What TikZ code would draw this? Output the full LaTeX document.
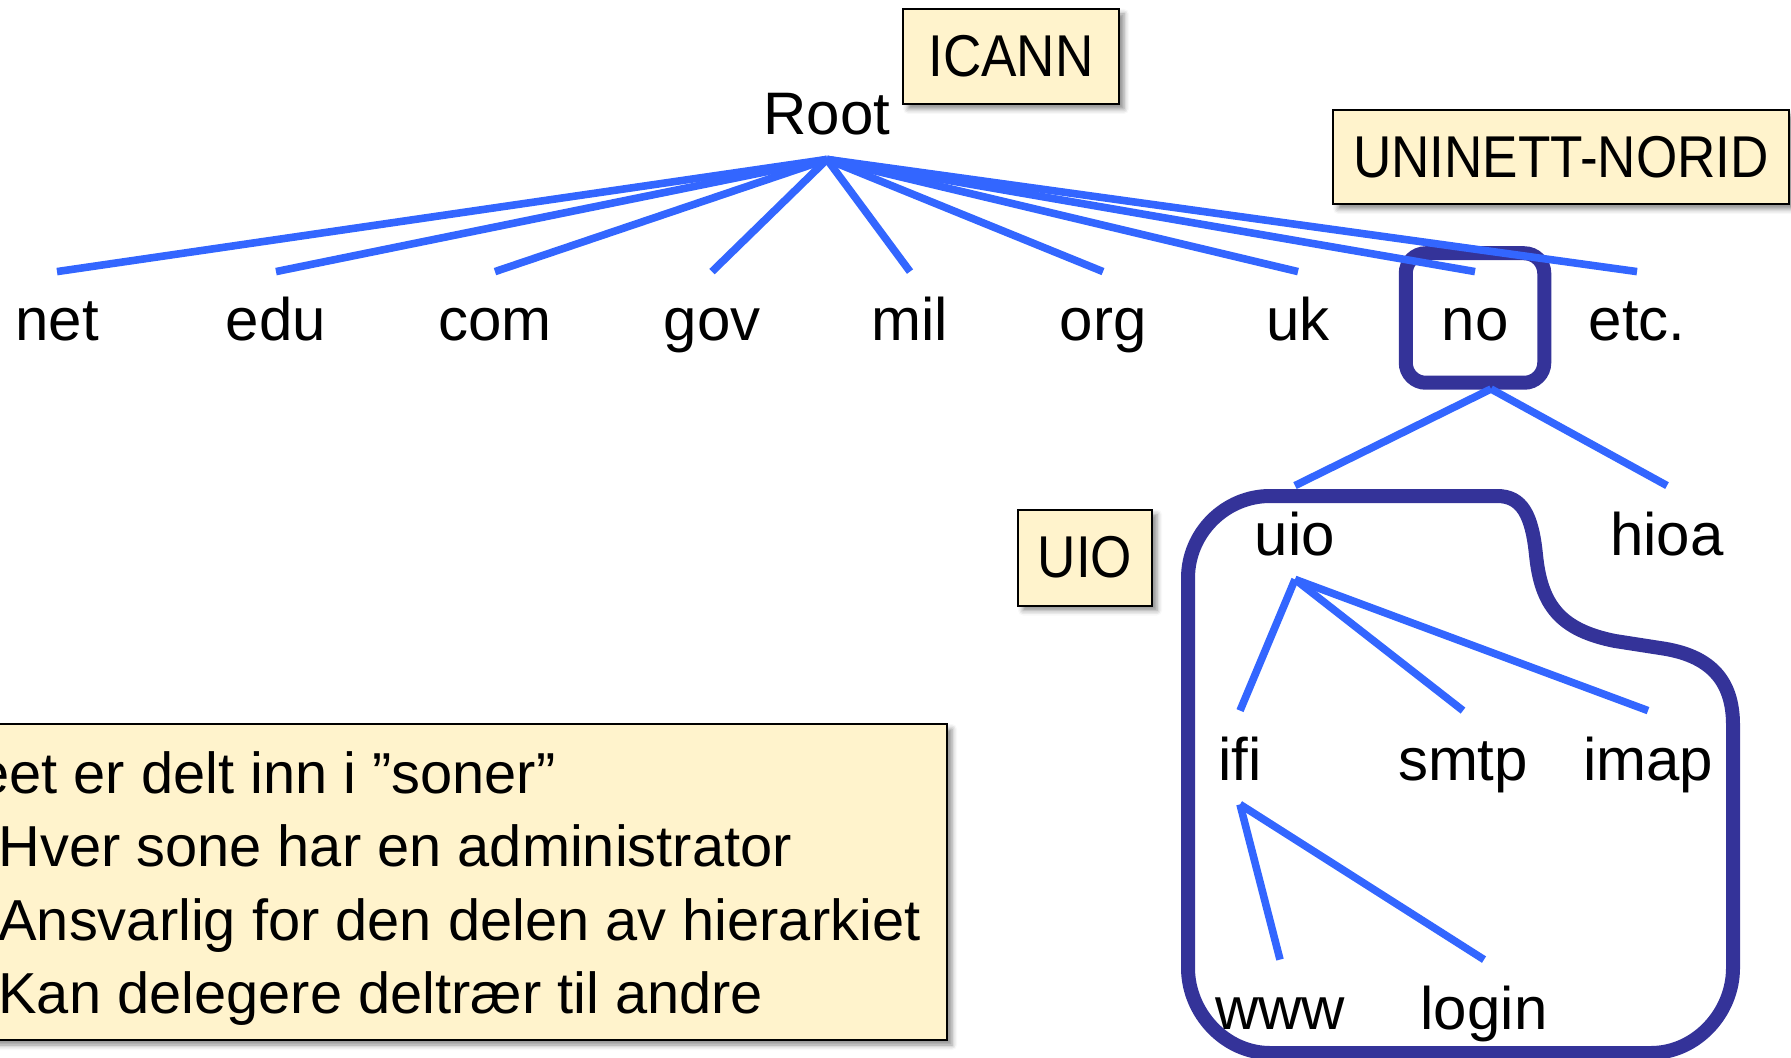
\documentclass[tikz,border=0pt]{standalone}
\usepackage{fontspec}
\setmainfont{Liberation Sans}
\newfontfamily\tagfont[FakeStretch=0.9]{Liberation Sans}
\usetikzlibrary{shadows.blur}
\definecolor{linkblue}{HTML}{3366FF}
\definecolor{zoneblue}{HTML}{343399}
\definecolor{notefill}{HTML}{FFF3CC}

\begin{document}
\begin{tikzpicture}[x=0.5pt,y=-0.5pt,
  lbl/.style={inner sep=0pt, anchor=base, text height=34.5pt, text depth=12pt,
              font=\fontsize{30pt}{30pt}\selectfont},
  link/.style={draw=linkblue, line width=3.8pt},
  zone/.style={draw=zoneblue, line width=7pt},
  tagbox/.style={draw=black, line width=1pt, fill=notefill, inner sep=0pt,
                 font=\tagfont\fontsize{29.5pt}{29.5pt}\selectfont,
                 blur shadow={shadow xshift=2.5pt, shadow yshift=-2.5pt,
                              shadow blur radius=2.5pt, shadow opacity=45}},
  notetext/.style={inner sep=0pt, font=\fontsize{28.9pt}{28.9pt}\selectfont},
]
\useasboundingbox (0,0) rectangle (1791,1058);
\clip (0,0) rectangle (1791,1058);

% administrator tags
\node[tagbox, minimum width=108pt, minimum height=47.5pt] (icann) at (1011,56.5) {ICANN};
\node[tagbox, minimum width=228pt, minimum height=47pt] (norid) at (1561,157) {UNINETT-NORID};
\node[tagbox, minimum width=67pt, minimum height=48pt] (uiotag) at (1085,557.5) {UIO};

% explanatory note
\node[tagbox, minimum width=483.5pt, minimum height=158pt] (note) at (463.5,882) {};
\node[notetext, anchor=base east] (l1) at (556,793) {eet er delt inn i ”soner”};
\node[notetext, anchor=base west] (l2) at (-2,866) {Hver sone har en administrator};
\node[notetext, anchor=base west] (l3) at (-2,940) {Ansvarlig for den delen av hierarkiet};
\node[notetext, anchor=base west] (l4) at (-2,1013) {Kan delegere deltrær til andre};

% uio zone outline
\draw[zone] (1497,496) .. controls (1522,496) and (1532,515) .. (1536,555)
  .. controls (1541,605) and (1560,630) .. (1615,641)
  -- (1660,648) .. controls (1710,655) and (1733,680) .. (1733,725)
  -- (1733,968) .. controls (1733,1013) and (1696,1053) .. (1651,1053)
  -- (1270,1053) .. controls (1225,1053) and (1188,1013) .. (1188,968)
  -- (1188,578) .. controls (1188,533) and (1225,496) .. (1270,496)
  -- cycle;

% tree labels
\node[lbl] (root) at (827,135) {Root};
\node[lbl] (net) at (57,341) {net};
\node[lbl] (edu) at (276,341) {edu};
\node[lbl] (com) at (495,341) {com};
\node[lbl] (gov) at (712,341) {gov};
\node[lbl] (mil) at (910,341) {mil};
\node[lbl] (org) at (1103,341) {org};
\node[lbl] (uk) at (1298,341) {uk};
\node[lbl] (no) at (1475,341) {no};
\node[lbl] (etc) at (1637,341) {etc.};
\node[lbl] (uio) at (1295,555) {uio};
\node[lbl] (hioa) at (1667,555) {hioa};
\node[lbl] (ifi) at (1240,780) {ifi};
\node[lbl] (smtp) at (1463,780) {smtp};
\node[lbl] (imap) at (1648,780) {imap};
\node[lbl] (www) at (1280,1029) {www};
\node[lbl] (login) at (1484,1029) {login};

% zone box around no
\node[draw=zoneblue, line width=7pt, rounded corners=10pt, inner sep=0pt,
      minimum width=69.25pt, minimum height=64.75pt] (nobox) at (1475,318) {};
\coordinate (nohub) at (1491,389);

% connectors
\foreach \t in {net,edu,com,gov,mil,org,uk,no,etc}
  \draw[link] (root.south) -- (\t.north);
\draw[link] (nohub) -- (uio.north);
\draw[link] (nohub) -- (hioa.north);
\foreach \t in {ifi,smtp,imap}
  \draw[link] (uio.south) -- (\t.north);
\foreach \t in {www,login}
  \draw[link] (ifi.south) -- (\t.north);
\end{tikzpicture}
\end{document}
